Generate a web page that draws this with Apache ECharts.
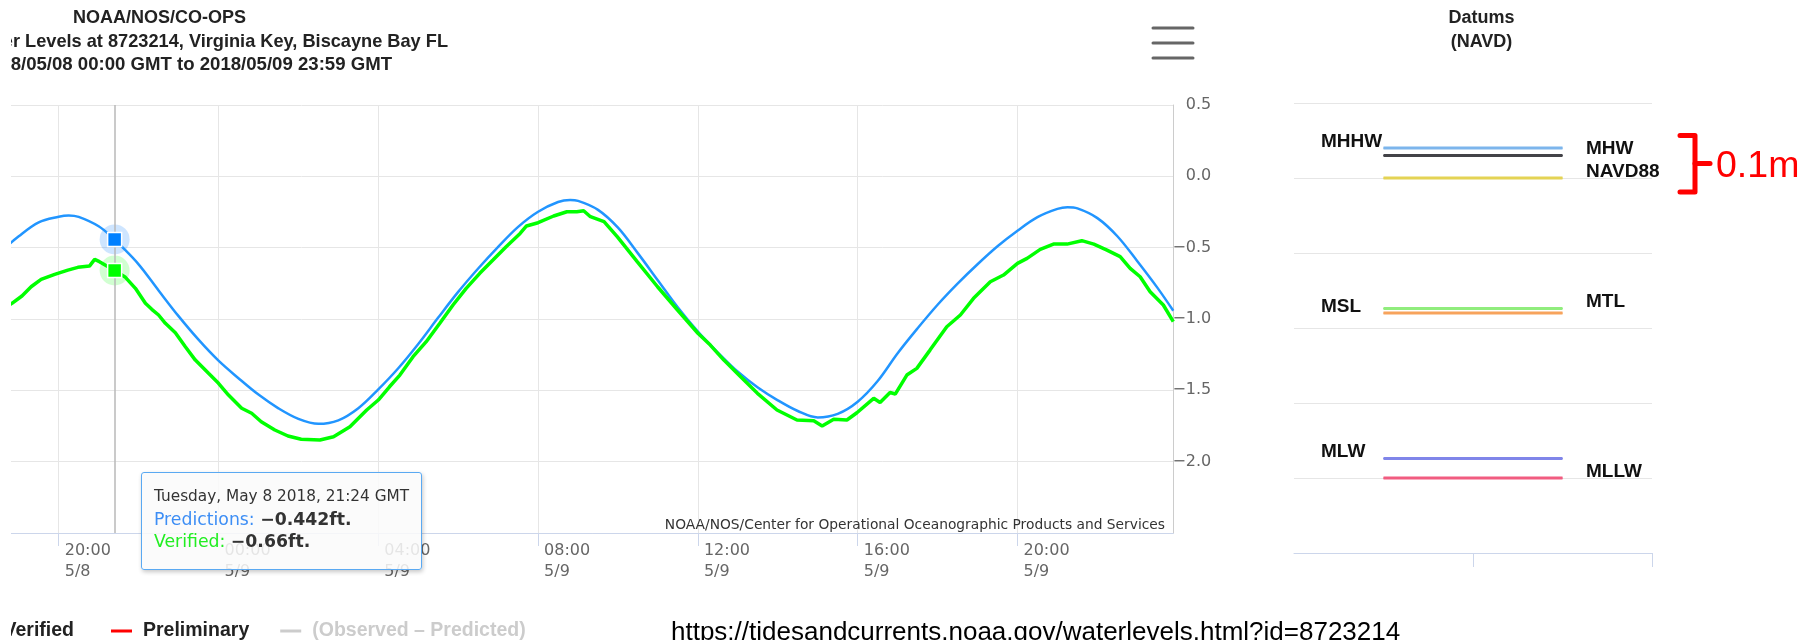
<!DOCTYPE html>
<html>
<head>
<meta charset="utf-8">
<script src="https://cdn.jsdelivr.net/npm/echarts@6/dist/echarts.min.js"></script>
<style>
html,body{margin:0;padding:0;background:#fff;}
#chart{width:1810px;height:640px;}
</style>
</head>
<body>
<div id="chart"></div>
<script>
// ---- Data (hours since 2018-05-08 00:00 GMT, water level in ft relative to NAVD) ----
const predHours = [18.5,19,19.5,20,20.25,20.5,21,21.4,21.5,22,22.5,23,23.5,24,24.5,25,25.5,26,26.5,27,27.5,28,28.5,29,29.5,30,30.5,31,31.5,32,32.5,32.8,33,33.5,34,34.5,35,35.5,36,36.5,37,37.5,38,38.5,39,39.5,40,40.5,41,41.5,42,42.5,43,43.5,44,44.5,45,45.25,45.5,46,46.5,47,47.5,47.9];
const predValues = [-0.54,-0.42,-0.322,-0.283,-0.274,-0.284,-0.35,-0.442,-0.47,-0.617,-0.80,-0.98,-1.145,-1.292,-1.415,-1.53,-1.626,-1.70,-1.735,-1.71,-1.625,-1.493,-1.345,-1.175,-0.99,-0.81,-0.646,-0.494,-0.354,-0.248,-0.18,-0.166,-0.172,-0.235,-0.36,-0.54,-0.73,-0.92,-1.089,-1.235,-1.37,-1.48,-1.57,-1.645,-1.69,-1.665,-1.58,-1.435,-1.24,-1.065,-0.90,-0.752,-0.616,-0.49,-0.381,-0.286,-0.228,-0.217,-0.225,-0.293,-0.42,-0.595,-0.78,-0.942];

const verHours = [18.5,18.83,19.08,19.31,19.56,19.9,20.23,20.48,20.77,20.9,21.02,21.4,21.67,21.92,22.17,22.33,22.5,22.67,22.92,23.17,23.42,23.75,24,24.25,24.58,24.83,25.07,25.41,25.74,26.07,26.54,26.88,27.29,27.71,28,28.28,28.54,28.87,29.2,29.54,29.87,30.2,30.54,30.87,31.2,31.55,31.71,32,32.39,32.72,32.97,33.14,33.31,33.65,33.98,34.48,34.99,35.49,36,36.31,36.65,37.07,37.49,37.98,38.48,38.9,39.11,39.4,39.73,39.98,40.4,40.56,40.81,40.94,41.23,41.48,41.81,42.23,42.57,42.9,43.32,43.65,44,44.24,44.57,44.9,45.24,45.61,45.91,46.24,46.57,46.82,47.07,47.32,47.65,47.9];
const verValues = [-0.95,-0.89,-0.839,-0.774,-0.722,-0.687,-0.657,-0.638,-0.629,-0.582,-0.598,-0.66,-0.708,-0.785,-0.89,-0.932,-0.972,-1.03,-1.096,-1.194,-1.288,-1.381,-1.451,-1.533,-1.626,-1.661,-1.72,-1.778,-1.82,-1.843,-1.848,-1.825,-1.755,-1.638,-1.568,-1.475,-1.393,-1.264,-1.159,-1.03,-0.902,-0.785,-0.68,-0.587,-0.493,-0.40,-0.348,-0.325,-0.278,-0.248,-0.248,-0.241,-0.283,-0.318,-0.423,-0.598,-0.774,-0.937,-1.10,-1.183,-1.288,-1.405,-1.521,-1.638,-1.708,-1.713,-1.75,-1.703,-1.708,-1.657,-1.556,-1.585,-1.515,-1.526,-1.393,-1.346,-1.218,-1.054,-0.972,-0.855,-0.739,-0.692,-0.61,-0.575,-0.512,-0.475,-0.475,-0.451,-0.475,-0.517,-0.563,-0.645,-0.704,-0.809,-0.902,-1.019];

const xRange = [18.806, 47.9];            // visible time window (hours)
const xTickHours = [20, 24, 28, 32, 36, 40, 44];
const tooltipHour = 21.4;

const datumNames  = ['MHHW','MHW','MTL','MSL','MLW','MLLW','NAVD88'];
const datumValues = [0.20, 0.15, -0.87, -0.90, -1.87, -2.00, 0.0];
const datumColors = ['#7cb5ec','#434348','#90ed7d','#f7a35c','#8085e9','#f15c80','#e4d354'];
const datumLabelSide = ['left','right','right','left','left','right','right'];

const legendNames = ['Preliminary','(Observed – Predicted)'];
const cutLegendName = 'Verified';

const titleLines = ['NOAA/NOS/CO-OPS','Water Levels at 8723214, Virginia Key, Biscayne Bay FL','2018/05/08 00:00 GMT to 2018/05/09 23:59 GMT'];
const datumTitle = ['Datums','(NAVD)'];
const creditText = 'NOAA/NOS/Center for Operational Oceanographic Products and Services';
const urlText = 'https://tidesandcurrents.noaa.gov/waterlevels.html?id=8723214';
const annotText = '0.1m';

// ---- helpers ----
const BASE = Date.UTC(2018, 4, 8);
const DAYS = ['Sunday','Monday','Tuesday','Wednesday','Thursday','Friday','Saturday'];
const MONTHS = ['January','February','March','April','May','June','July','August','September','October','November','December'];
const pad = n => (n < 10 ? '0' : '') + n;
const hourDate = h => new Date(BASE + Math.round(h * 60) * 60000);
const minus = s => String(s).replace('-', '\u2212');

const tipIdx = predHours.indexOf(tooltipHour);
const tipIdxV = verHours.indexOf(tooltipHour);

const chart = echarts.init(document.getElementById('chart'), null, {renderer: 'canvas'});

const datumSeries = datumNames.map((name, i) => {
  const left = datumLabelSide[i] === 'left';
  const lbl = {
    formatter: name, fontFamily: 'Liberation Sans', fontWeight: 'bold', fontSize: 19, color: '#111',
    offset: [0, -6.5]
  };
  return {
    type: 'line', name: name, xAxisIndex: 1, yAxisIndex: 1, silent: true,
    symbol: 'circle', symbolSize: 1, showSymbol: true, animation: false,
    lineStyle: {color: datumColors[i], width: 3},
    itemStyle: {color: datumColors[i]},
    emphasis: {disabled: true},
    data: [
      {value: [0.5, datumValues[i]], label: Object.assign({show: left, position: 'left', distance: 62, align: 'left'}, lbl)},
      {value: [1.5, datumValues[i]], label: Object.assign({show: !left, position: 'right', distance: 23, align: 'left'}, lbl)}
    ]
  };
});

const txt = (x, y, text, font, fill, align) => ({
  type: 'text', x: x, y: y, z: 10, silent: true,
  style: {text: text, font: font, fill: fill, align: align, verticalAlign: 'middle', textAlign: align, textVerticalAlign: 'middle'}
});
const seg = (x1, y1, x2, y2, stroke, w) => ({
  type: 'line', silent: true, shape: {x1: x1, y1: y1, x2: x2, y2: y2}, style: {stroke: stroke, lineWidth: w, lineCap: 'round'}
});

const option = {
  animation: false,
  textStyle: {fontFamily: 'DejaVu Sans'},
  grid: [
    {left: 11, width: 1162.3, top: 105, height: 428, show: false},
    {left: 1294, width: 358, top: 103, height: 450, show: false}
  ],
  xAxis: [
    {
      type: 'value', gridIndex: 0, min: xRange[0], max: xRange[1],
      axisLine: {show: true, onZero: false, lineStyle: {color: '#ccd6eb', width: 1}},
      axisTick: {show: true, length: 13, customValues: xTickHours, lineStyle: {color: '#ccd6eb'}},
      splitLine: {show: true, lineStyle: {color: '#e6e6e6', width: 1}},
      axisLabel: {
        customValues: xTickHours, showMinLabel: true, showMaxLabel: true, align: 'left', margin: 7,
        padding: [0, 0, 0, 6], fontFamily: 'DejaVu Sans', fontSize: 16, lineHeight: 21, color: '#666',
        formatter: v => { const d = hourDate(v); return pad(d.getUTCHours()) + ':' + pad(d.getUTCMinutes()) + '\n' + (d.getUTCMonth() + 1) + '/' + d.getUTCDate(); }
      }
    },
    {
      type: 'value', gridIndex: 1, min: 0, max: 2, interval: 1,
      axisLine: {show: true, onZero: false, lineStyle: {color: '#ccd6eb'}},
      axisTick: {show: true, length: 14, customValues: [1, 2], lineStyle: {color: '#ccd6eb'}},
      axisLabel: {show: false}, splitLine: {show: false}
    }
  ],
  yAxis: [
    {
      type: 'value', gridIndex: 0, position: 'right', min: -2.5, max: 0.5, interval: 0.5,
      axisLine: {show: true, onZero: false, lineStyle: {color: '#cccccc', width: 1}}, axisTick: {show: false},
      splitLine: {show: true, lineStyle: {color: '#e6e6e6', width: 1}},
      axisLabel: {
        showMinLabel: false, align: 'right', margin: 38, padding: [0, 0, 6, 0],
        fontFamily: 'DejaVu Sans', fontSize: 16, color: '#666',
        formatter: v => minus(v.toFixed(1))
      }
    },
    {
      type: 'value', gridIndex: 1, min: -2.5, max: 0.5, interval: 0.5,
      axisLine: {show: false}, axisTick: {show: false}, axisLabel: {show: false},
      splitLine: {show: true, lineStyle: {color: '#e6e6e6', width: 1}}
    }
  ],
  legend: {
    data: legendNames, left: 106, top: 616, icon: 'rect', itemWidth: 21, itemHeight: 3, itemGap: 31,
    textStyle: {fontFamily: 'Liberation Sans', fontWeight: 'bold', fontSize: 19.5, color: '#222', padding: [0, 0, 0, 6]},
    inactiveColor: '#cccccc',
    selected: {'(Observed – Predicted)': false}
  },
  tooltip: {
    trigger: 'axis', triggerOn: 'none', alwaysShowContent: true, transitionDuration: 0,
    position: [141, 472], confine: false,
    backgroundColor: 'rgba(250,250,250,0.86)', borderColor: '#5aa9f2', borderWidth: 1.5, padding: [12, 12, 8, 12],
    extraCssText: 'box-shadow: 1px 2px 4px rgba(0,0,0,0.22); border-radius: 3px; width: 281px; height: 98px; box-sizing: border-box;',
    axisPointer: {type: 'line', snap: true, animation: false, z: 1, lineStyle: {color: '#b8b8b8', width: 1.5, type: 'solid'}, label: {show: false}},
    formatter: params => {
      const p = params.find(q => q.seriesName === 'Predictions');
      const v = params.find(q => q.seriesName === 'Verified');
      const d = hourDate(p.value[0]);
      const head = DAYS[d.getUTCDay()] + ', ' + MONTHS[d.getUTCMonth()].slice(0, 3) + ' ' + d.getUTCDate() + ' ' + d.getUTCFullYear() + ', ' + pad(d.getUTCHours()) + ':' + pad(d.getUTCMinutes()) + ' GMT';
      return '<div style="font-family:\'DejaVu Sans\';color:#333;line-height:22.5px;white-space:nowrap;">' +
        '<div style="font-size:15.3px;">' + head + '</div>' +
        '<div style="font-size:17.3px;"><span style="color:#3d8ef5;">Predictions: </span><b>' + minus(p.value[1]) + 'ft.</b></div>' +
        '<div style="font-size:17.3px;"><span style="color:#22ee22;">Verified: </span><b>' + minus(v.value[1]) + 'ft.</b></div>' +
        '</div>';
    }
  },
  series: [
    {
      name: 'Predictions', type: 'line', xAxisIndex: 0, yAxisIndex: 0, z: 2,
      data: predHours.map((h, i) => [h, predValues[i]]),
      smooth: 0.35, showSymbol: false, symbol: 'rect', symbolSize: 14,
      lineStyle: {color: '#1e88ff', width: 2.5},
      itemStyle: {color: '#0080ff', borderColor: '#ffffff', borderWidth: 1.5},
      emphasis: {scale: false, lineStyle: {width: 2.5}},
      markPoint: {
        silent: true, z: 1, symbol: 'circle', symbolSize: 30, animation: false,
        itemStyle: {color: 'rgba(30,136,255,0.22)'}, label: {show: false},
        data: [{coord: [predHours[tipIdx], predValues[tipIdx]]}]
      }
    },
    {
      name: 'Verified', type: 'line', xAxisIndex: 0, yAxisIndex: 0, z: 3,
      data: verHours.map((h, i) => [h, verValues[i]]),
      showSymbol: false, symbol: 'rect', symbolSize: 14,
      lineStyle: {color: '#00ff00', width: 3.5},
      itemStyle: {color: '#00ff00', borderColor: '#ffffff', borderWidth: 1.5},
      emphasis: {scale: false, lineStyle: {width: 3.5}},
      markPoint: {
        silent: true, z: 1, symbol: 'circle', symbolSize: 30, animation: false,
        itemStyle: {color: 'rgba(0,255,0,0.18)'}, label: {show: false},
        data: [{coord: [verHours[tipIdxV], verValues[tipIdxV]]}]
      }
    },
    {name: 'Preliminary', type: 'line', xAxisIndex: 0, yAxisIndex: 0, data: [], color: '#ff0000'},
    {name: '(Observed – Predicted)', type: 'line', xAxisIndex: 0, yAxisIndex: 0, data: [], color: '#aaaaaa'}
  ].concat(datumSeries),
  graphic: [
    txt(159.5, 18.5, titleLines[0], 'bold 18px "Liberation Sans"', '#222', 'center'),
    txt(448, 41.6, titleLines[1], 'bold 18.2px "Liberation Sans"', '#222', 'right'),
    txt(392, 64.6, titleLines[2], 'bold 18.6px "Liberation Sans"', '#222', 'right'),
    txt(74, 631, cutLegendName, 'bold 19.5px "Liberation Sans"', '#222', 'right'),
    {type: 'rect', x: 0, y: 0, z: 100, silent: true, shape: {width: 11, height: 640}, style: {fill: '#ffffff'}},
    txt(1481.5, 18.5, datumTitle[0], 'bold 18px "Liberation Sans"', '#222', 'center'),
    txt(1481.5, 41.6, datumTitle[1], 'bold 18px "Liberation Sans"', '#222', 'center'),
    txt(1165, 525, creditText, '13.8px "DejaVu Sans"', '#333', 'right'),
    seg(1153, 28, 1193, 28, '#666', 3),
    seg(1153, 43, 1193, 43, '#666', 3),
    seg(1153, 58, 1193, 58, '#666', 3),
    {type: 'polyline', silent: true, shape: {points: [[1680, 135.5], [1695, 135.5], [1695, 192], [1680, 192]]}, style: {stroke: '#ff0000', fill: null, lineWidth: 5, lineCap: 'round', lineJoin: 'round'}},
    seg(1695, 163.5, 1710, 163.5, '#ff0000', 5),
    txt(1716, 166.5, annotText, '37.5px "Liberation Sans"', '#ff0000', 'left'),
    txt(671, 633, urlText, '26px "Liberation Sans"', '#000', 'left')
  ]
};

chart.setOption(option);
chart.dispatchAction({type: 'showTip', seriesIndex: 0, dataIndex: tipIdx});
</script>
</body>
</html>
